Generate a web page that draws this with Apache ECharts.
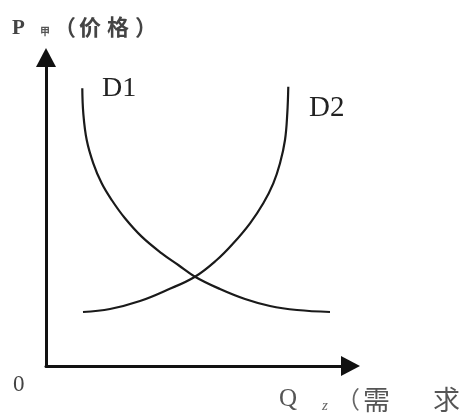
<!DOCTYPE html>
<html>
<head>
<meta charset="utf-8">
<script src="https://cdn.jsdelivr.net/npm/echarts@6/dist/echarts.min.js"></script>
<style>
  html, body { margin: 0; padding: 0; background: #fff; }
  #chart { width: 463px; height: 417px; }
</style>
</head>
<body>
<div id="chart"></div>
<script>
// demand curves (quantity, price) in 0-100 units
var d1Points = [
  [11.92, 90.02], [12.25, 81.91], [13.37, 73.26], [15.53, 65.71], [18.29, 59.22],
  [21.58, 53.81], [25.94, 47.88], [31.43, 41.93], [38.00, 36.53], [43.45, 32.74],
  [48.93, 28.95], [57.14, 24.96], [65.35, 21.72], [73.56, 19.45], [82.43, 18.15],
  [93.27, 17.50]
];
var d2Points = [
  [12.15, 17.50], [21.02, 18.48], [30.87, 21.07], [39.74, 24.64], [48.93, 28.95],
  [56.06, 34.36], [61.51, 39.78], [67.00, 46.26], [71.36, 52.74], [74.65, 59.22],
  [76.85, 65.71], [78.49, 73.26], [79.24, 81.91], [79.57, 90.53]
];
var curveNames = ["D1", "D2"];
var axisMax = 100;

var chart = echarts.init(document.getElementById("chart"), null, { renderer: "canvas" });

var axisLook = {
  show: true,
  symbol: ["none", "triangle"],
  symbolSize: [20, 19],
  lineStyle: { color: "#111", width: 3 }
};

var serif = "'Liberation Serif', 'DejaVu Serif', serif";
var cjk = "'Noto Sans CJK SC', sans-serif";

function label(x, y, text, font, color) {
  return { type: "text", left: x, top: y, style: { text: text, font: font, fill: color } };
}

chart.setOption({
  animation: false,
  backgroundColor: "#fff",
  grid: { left: 46, top: 57.5, right: 112.5, bottom: 51 },
  xAxis: {
    type: "value", min: 0, max: axisMax,
    axisLine: axisLook,
    axisTick: { show: false }, axisLabel: { show: false }, splitLine: { show: false }
  },
  yAxis: {
    type: "value", min: 0, max: axisMax,
    axisLine: axisLook,
    axisTick: { show: false }, axisLabel: { show: false }, splitLine: { show: false }
  },
  series: [
    {
      name: curveNames[0], type: "line", data: d1Points, smooth: 0.4,
      showSymbol: false, lineStyle: { color: "#1a1a1a", width: 2.2 }
    },
    {
      name: curveNames[1], type: "line", data: d2Points, smooth: 0.4,
      showSymbol: false, lineStyle: { color: "#1a1a1a", width: 2.2 }
    }
  ],
  graphic: [
    // vertical axis title
    label(12, 18, "P", "bold 21px " + serif, "#444"),
    label(40, 26, "甲", "bold 10px " + cjk, "#555"),
    label(54, 16, "（", "bold 22px " + cjk, "#444"),
    label(79, 16, "价", "bold 22px " + cjk, "#444"),
    label(107, 16, "格", "bold 22px " + cjk, "#444"),
    label(135, 16, "）", "bold 22px " + cjk, "#444"),
    // curve names
    label(102, 75, curveNames[0], "28px " + serif, "#222"),
    label(309, 94, curveNames[1], "29px " + serif, "#222"),
    // origin and horizontal axis title
    label(13, 373, "0", "23px " + serif, "#444"),
    label(279, 387, "Q", "25px " + serif, "#555"),
    label(322, 399, "z", "italic 15px " + serif, "#666"),
    label(336, 387, "（", "24px " + cjk, "#666"),
    label(363, 386, "需", "27px " + cjk, "#555"),
    label(433, 386, "求", "27px " + cjk, "#555")
  ]
});
</script>
</body>
</html>
